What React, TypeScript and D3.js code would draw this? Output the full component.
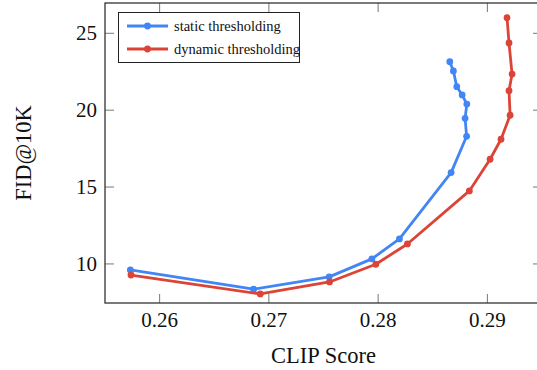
import * as d3 from 'd3';

const staticX = [0.25732, 0.2686, 0.27552, 0.27943, 0.28195, 0.28668, 0.2881, 0.28796, 0.28812, 0.28769, 0.2872, 0.28689, 0.28656];
const staticY = [9.61, 8.36, 9.16, 10.33, 11.63, 15.94, 18.3, 19.47, 20.4, 20.99, 21.53, 22.55, 23.15];
const dynamicX = [0.25738, 0.26921, 0.27555, 0.27979, 0.28268, 0.28835, 0.29025, 0.29125, 0.29208, 0.29198, 0.29226, 0.29198, 0.2918];
const dynamicY = [9.28, 8.05, 8.83, 9.98, 11.3, 14.75, 16.81, 18.11, 19.67, 21.27, 22.35, 24.37, 26.01];

const xTicks = [0.26, 0.27, 0.28, 0.29];
const yTicks = [10, 15, 20, 25];
const seriesNames = ['static thresholding', 'dynamic thresholding'];
const colors = ['#4285F4', '#DB4437'];

const W = 537;
const H = 370;
const left = 105;
const right = 542;
const top = 3;
const bottom = 303;
const tickLen = 9;
const font = "'Liberation Serif', serif";

export default function App() {
  const x = d3.scaleLinear().domain([0.255, 0.295]).range([left, right]);
  const y = d3.scaleLinear().domain([7.46, 26.97]).range([bottom, top]);

  const series = [
    staticX.map((v, i) => [v, staticY[i]] as [number, number]),
    dynamicX.map((v, i) => [v, dynamicY[i]] as [number, number]),
  ];

  const line = d3.line<[number, number]>()
    .x(d => x(d[0]))
    .y(d => y(d[1]));

  return (
    <svg width={W} height={H} style={{ position: 'absolute', left: 0, top: 0, background: '#fff', fontFamily: font }}>
      {/* ticks, mirrored inside on all sides */}
      <g stroke="#777" strokeWidth={1}>
        {xTicks.map(t => (
          <g key={'x' + t}>
            <line x1={x(t)} x2={x(t)} y1={bottom} y2={bottom - tickLen} />
            <line x1={x(t)} x2={x(t)} y1={top} y2={top + tickLen} />
          </g>
        ))}
        {yTicks.map(t => (
          <g key={'y' + t}>
            <line x1={left} x2={left + tickLen} y1={y(t)} y2={y(t)} />
            <line x1={right} x2={right - tickLen} y1={y(t)} y2={y(t)} />
          </g>
        ))}
      </g>

      {series.map((s, i) => (
        <g key={i}>
          <path d={line(s) || ''} fill="none" stroke={colors[i]} strokeWidth={2.8} strokeLinejoin="round" />
          {s.map((d, j) => (
            <circle key={j} cx={x(d[0])} cy={y(d[1])} r={3.4} fill={colors[i]} />
          ))}
        </g>
      ))}

      <rect x={left} y={top} width={right - left} height={bottom - top} fill="none" stroke="#333" strokeWidth={1.3} />

      <g style={{ fontFamily: font }} fontSize={21} fill="#111">
        {xTicks.map(t => (
          <text key={'xl' + t} x={x(t)} y={327} textAnchor="middle">{t.toFixed(2)}</text>
        ))}
        {yTicks.map(t => (
          <text key={'yl' + t} x={97} y={y(t)} textAnchor="end" dominantBaseline="central">{t}</text>
        ))}
        <text x={(left + right) / 2} y={363} textAnchor="middle" fontSize={22.5}>CLIP Score</text>
        <text transform={`translate(31,${(top + bottom) / 2}) rotate(-90)`} textAnchor="middle" fontSize={22.5}>FID@10K</text>
      </g>

      {/* legend */}
      <g>
        <rect x={118.5} y={12.5} width={181} height={50} fill="#fff" stroke="#222" strokeWidth={1} />
        {seriesNames.map((n, i) => {
          const ly = 26 + i * 23;
          return (
            <g key={n}>
              <line x1={127} x2={168} y1={ly} y2={ly} stroke={colors[i]} strokeWidth={2.8} />
              <circle cx={147.5} cy={ly} r={3.4} fill={colors[i]} />
              <text x={174} y={ly} dominantBaseline="central" style={{ fontFamily: font }} fontSize={14.5} fill="#111">{n}</text>
            </g>
          );
        })}
      </g>
    </svg>
  );
}
